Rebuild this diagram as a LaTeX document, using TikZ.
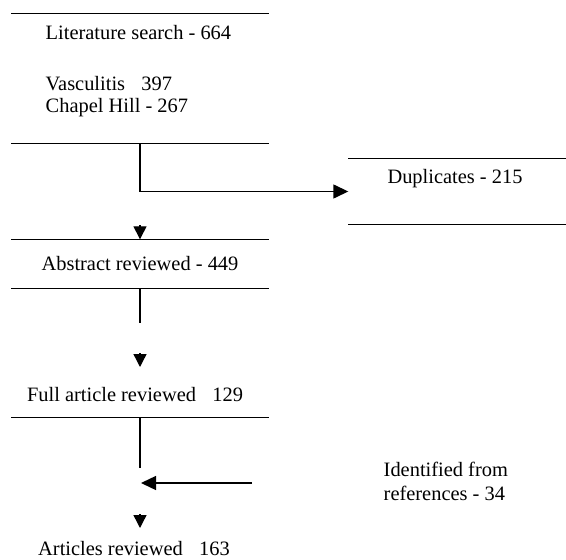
\documentclass[tikz,border=0pt]{standalone}
\usepackage{fontspec}
\setmainfont{Liberation Serif}
\usetikzlibrary{arrows.meta}

\begin{document}
\begin{tikzpicture}[x=1bp, y=-1bp, line width=1.4bp,
    every node/.style = {font=\fontsize{20.5}{24.5}\selectfont, inner sep=0pt},
    band/.style = {minimum width=256bp},
    head/.style = {-{Triangle[length=13bp, width=13bp]}},
    flow/.style = {-{Triangle[length=15bp, width=14bp]}}]
    \useasboundingbox (0,0) rectangle (566,560);

        % open boxes (only top and bottom rules)
        \node [band, minimum height=129bp] (search) at (140,78.5) {};
        \node [minimum width=217bp, minimum height=65bp] (dup) at (457.5,191.5) {};
        \node [band, minimum height=48bp] (abstract) at (140,264) {Abstract reviewed - 449};
        \node [band, minimum height=44bp] (full) at (140,395) {};

        \node [anchor=west] (lit) at (45,33) {Literature search - 664};
        \node [anchor=west] (vasc) at (45,84) {Vasculitis\hspace{0.8em}397};
        \node [anchor=west] (chapel) at (45,108) {Chapel Hill - 267};
        \node (duptxt) at (455,179) {Duplicates - 215};
        \node (fulltxt) at (135,395) {Full article reviewed\hspace{0.8em}129};
        \node [anchor=west, align=left] (ref) at (383,481.5) {Identified from\\references - 34};
        \node (art) at (134,549) {Articles reviewed\hspace{0.8em}163};

        \coordinate (a1) at (140,323);
        \coordinate (h1) at (140,353);
        \coordinate (h2) at (140,367);
        \coordinate (b1) at (140,468);
        \coordinate (r0) at (252,483);
        \coordinate (r1) at (141,483);
        \coordinate (h3) at (140,514);
        \coordinate (h4) at (140,528);

        \draw (search.north west) -- (search.north east);
        \draw (search.south west) -- (search.south east);
        \draw (dup.north west) -- (dup.north east);
        \draw (dup.south west) -- (dup.south east);
        \draw (abstract.north west) -- (abstract.north east);
        \draw (abstract.south west) -- (abstract.south east);
        \draw (full.south west) -- (full.south east);

        \draw[flow] (search.south) |- (dup.west);
        \draw[head] ([yshift=14bp]abstract.north) -- (abstract.north);
        \draw (abstract.south) -- (a1);
        \draw[head] (h1) -- (h2);
        \draw (full.south) -- (b1);
        \draw[flow] (r0) -- (r1);
        \draw[head] (h3) -- (h4);

    \end{tikzpicture}
\end{document}
